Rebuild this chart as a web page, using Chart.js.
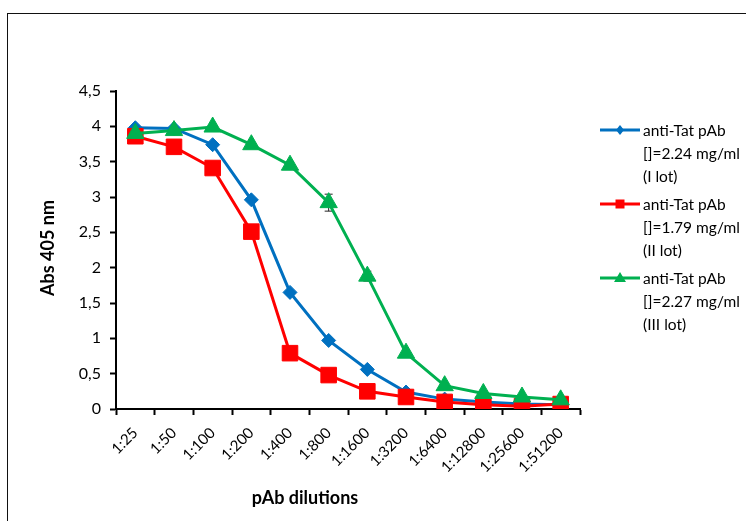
<!DOCTYPE html>
<html>
<head>
<meta charset="utf-8">
<script src="https://cdn.jsdelivr.net/npm/chart.js@4.4.1/dist/chart.umd.min.js"></script>
<style>
  html, body { margin: 0; padding: 0; background: #fff; }
  #wrap { position: relative; width: 746px; height: 521px; overflow: hidden; }
  #frame { position: absolute; left: 7px; top: 13px; width: 800px; height: 600px; border: 1px solid #111; box-sizing: border-box; }
  canvas { position: absolute; left: 0; top: 0; }
</style>
</head>
<body>
<div id="wrap">
  <div id="frame"></div>
  <canvas id="c" width="746" height="521"></canvas>
</div>
<script>
const categories = ['1:25','1:50','1:100','1:200','1:400','1:800','1:1600','1:3200','1:6400','1:12800','1:25600','1:51200'];
const lotI   = [3.98, 3.97, 3.74, 2.96, 1.65, 0.97, 0.56, 0.24, 0.14, 0.10, 0.07, 0.06];
const lotII  = [3.86, 3.71, 3.41, 2.51, 0.79, 0.48, 0.25, 0.17, 0.10, 0.06, 0.04, 0.07];
const lotIII = [3.90, 3.94, 3.99, 3.74, 3.45, 2.92, 1.88, 0.79, 0.33, 0.22, 0.17, 0.13];
const errIII = [0.02, 0.02, 0.02, 0.03, 0.05, 0.12, 0.07, 0.05, 0.02, 0.02, 0.02, 0.02];
const yTickLabels = ['0','0,5','1','1,5','2','2,5','3','3,5','4','4,5'];
const seriesLabels = [
  ['anti-Tat pAb', '[]=2.24 mg/ml', '(I lot)'],
  ['anti-Tat pAb', '[]=1.79 mg/ml', '(II lot)'],
  ['anti-Tat pAb', '[]=2.27 mg/ml', '(III lot)']
];
const xTitle = 'pAb dilutions';
const yTitle = 'Abs 405 nm';

const FONT = 'Lato, Carlito, Calibri, "Open Sans", sans-serif';
const BLUE = '#0070C0', RED = '#FF0000', GREEN = '#00B050';

const errorBars = {
  id: 'errorBars',
  beforeDatasetsDraw(chart) {
    const ctx = chart.ctx;
    const meta = chart.getDatasetMeta(2);
    const y = chart.scales.y;
    ctx.save();
    ctx.strokeStyle = '#222';
    ctx.lineWidth = 1;
    meta.data.forEach((pt, i) => {
      const v = lotIII[i], e = errIII[i];
      const yt = y.getPixelForValue(v + e), yb = y.getPixelForValue(v - e);
      ctx.beginPath();
      ctx.moveTo(pt.x, yt); ctx.lineTo(pt.x, yb);
      ctx.moveTo(pt.x - 4, yt); ctx.lineTo(pt.x + 4, yt);
      ctx.moveTo(pt.x - 4, yb); ctx.lineTo(pt.x + 4, yb);
      ctx.stroke();
    });
    ctx.restore();
  }
};

const extras = {
  id: 'extras',
  afterDraw(chart) {
    const ctx = chart.ctx;
    ctx.save();
    ctx.fillStyle = '#000';
    ctx.font = 'bold 18px ' + FONT;
    ctx.textAlign = 'center';
    ctx.textBaseline = 'middle';
    ctx.fillText(xTitle, 305, 498);
    ctx.translate(48, 248);
    ctx.rotate(-Math.PI / 2);
    ctx.fillText(yTitle, 0, 0);
    ctx.restore();

    ctx.save();
    const colors = [BLUE, RED, GREEN];
    const shapes = ['diamond', 'square', 'triangle'];
    const tops = [130, 204, 278];
    ctx.font = '15.5px ' + FONT;
    ctx.textAlign = 'left';
    ctx.textBaseline = 'middle';
    for (let k = 0; k < 3; k++) {
      const yy = tops[k];
      ctx.strokeStyle = colors[k];
      ctx.fillStyle = colors[k];
      ctx.lineWidth = 3;
      ctx.beginPath();
      ctx.moveTo(600, yy); ctx.lineTo(640, yy); ctx.stroke();
      const cx = 620;
      ctx.beginPath();
      if (shapes[k] === 'diamond') {
        ctx.moveTo(cx, yy - 5); ctx.lineTo(cx + 4, yy); ctx.lineTo(cx, yy + 5); ctx.lineTo(cx - 4, yy);
      } else if (shapes[k] === 'square') {
        ctx.rect(cx - 4.5, yy - 4.5, 9, 9);
      } else {
        ctx.moveTo(cx, yy - 6); ctx.lineTo(cx + 6, yy + 4); ctx.lineTo(cx - 6, yy + 4);
      }
      ctx.closePath();
      ctx.fill();
      ctx.fillStyle = '#000';
      seriesLabels[k].forEach((t, j) => ctx.fillText(t, 643, yy + 1 + j * 23));
    }
    ctx.restore();
  }
};

new Chart(document.getElementById('c'), {
  type: 'line',
  data: {
    labels: categories,
    datasets: [
      { label: seriesLabels[0].join(' '), data: lotI, borderColor: BLUE, backgroundColor: BLUE,
        borderWidth: 3, pointStyle: 'rectRot', pointRadius: 7, pointBorderWidth: 1, order: 2, tension: 0 },
      { label: seriesLabels[1].join(' '), data: lotII, borderColor: RED, backgroundColor: RED,
        borderWidth: 3, pointStyle: 'rect', pointRadius: 11, pointBorderWidth: 1, order: 1, tension: 0 },
      { label: seriesLabels[2].join(' '), data: lotIII, borderColor: GREEN, backgroundColor: GREEN,
        borderWidth: 3, pointStyle: 'triangle', pointRadius: 10, pointBorderWidth: 1, order: 0, tension: 0 }
    ]
  },
  options: {
    responsive: false,
    animation: false,
    layout: { padding: { left: 0, top: 91, right: 166, bottom: 0 } },
    plugins: { legend: { display: false }, tooltip: { enabled: false } },
    scales: {
      x: {
        offset: true,
        grid: { display: true, drawOnChartArea: false, offset: true, tickColor: '#000', tickLength: 6, tickWidth: 2 },
        border: { color: '#000', width: 2 },
        ticks: { color: '#000', font: { family: FONT, size: 15 }, maxRotation: 45, minRotation: 45, padding: 9, autoSkip: false },
        afterFit(s) { s.height = 112; }
      },
      y: {
        min: 0, max: 4.5,
        grid: { display: true, drawOnChartArea: false, tickColor: '#000', tickLength: 6, tickWidth: 2 },
        border: { color: '#000', width: 2 },
        ticks: { stepSize: 0.5, color: '#000', font: { family: FONT, size: 16 }, padding: 9,
          callback: (v, i) => yTickLabels[i] },
        afterFit(s) { s.width = 116; }
      }
    }
  },
  plugins: [errorBars, extras]
});
</script>
</body>
</html>
